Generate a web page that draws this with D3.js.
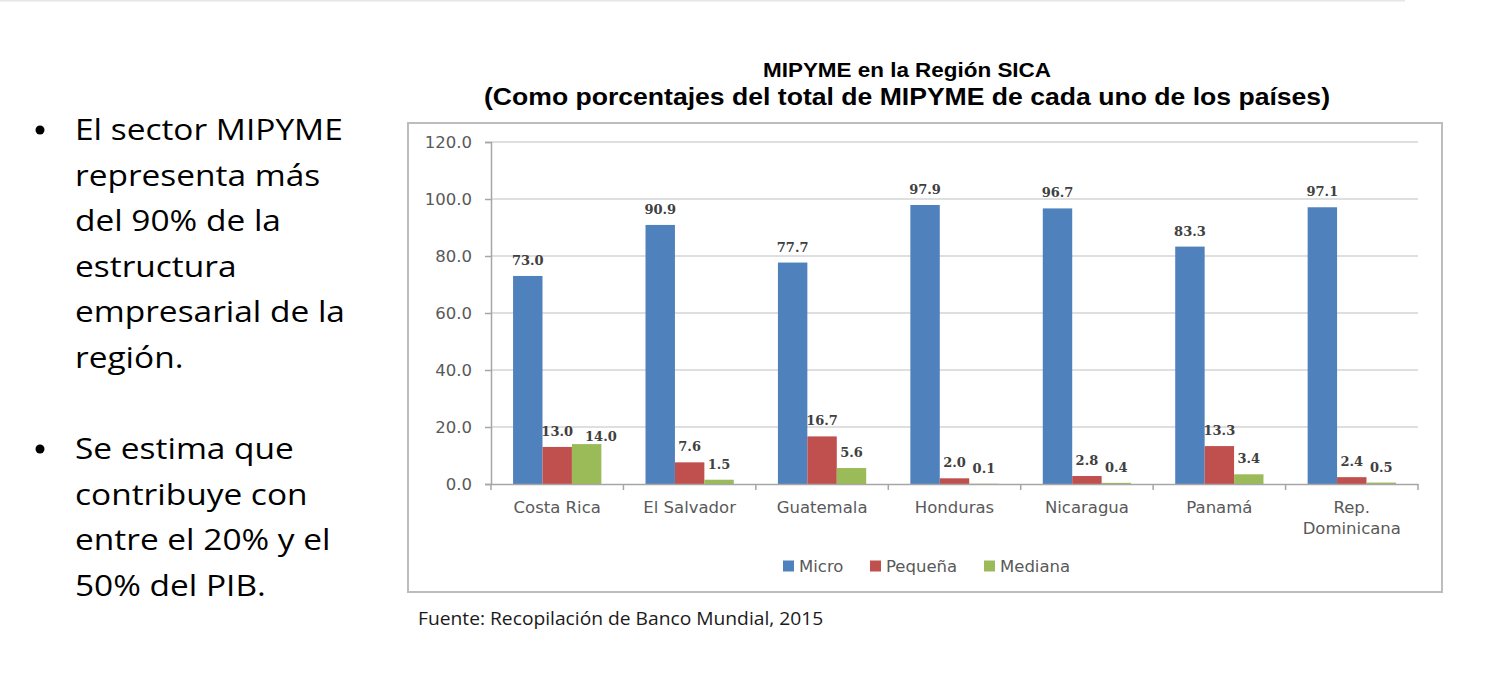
<!DOCTYPE html>
<html>
<head>
<meta charset="utf-8">
<script src="https://cdn.jsdelivr.net/npm/d3@7"></script>
<style>
  body { margin: 0; background: #fff; }
  svg { display: block; }
</style>
</head>
<body>
<div id="slide"></div>
<script>
// DATA
const countries = ["Costa Rica", "El Salvador", "Guatemala", "Honduras", "Nicaragua", "Panamá", "Rep. Dominicana"];
const series = ["Micro", "Pequeña", "Mediana"];
const micro = [73.0, 90.9, 77.7, 97.9, 96.7, 83.3, 97.1];
const pequena = [13.0, 7.6, 16.7, 2.0, 2.8, 13.3, 2.4];
const mediana = [14.0, 1.5, 5.6, 0.1, 0.4, 3.4, 0.5];
const yTicks = [0, 20, 40, 60, 80, 100, 120];
const colors = ["#4f81bd", "#c0504d", "#9bbb59"];

const titleLines = ["MIPYME en la Región SICA", "(Como porcentajes del total de MIPYME de cada uno de los países)"];
const bullet1 = ["El sector MIPYME", "representa más", "del 90% de la", "estructura", "empresarial de la", "región."];
const bullet2 = ["Se estima que", "contribuye con", "entre el 20% y el", "50% del PIB."];
const source = "Fuente: Recopilación de Banco Mundial, 2015";

const values = [micro, pequena, mediana];
const rows = countries.map((c, i) => ({ country: c, vals: values.map((v) => v[i]) }));

// CANVAS
const W = 1487, H = 689;
const svg = d3.select("#slide").append("svg").attr("width", W).attr("height", H);

// thin line on top of the slide
svg.append("line")
  .attr("x1", 0).attr("x2", 1405).attr("y1", 0.5).attr("y2", 0.5)
  .attr("stroke", "#e6e6e6").attr("stroke-width", 2);

// LEFT TEXT (slide font is a bit wider than Open Sans, so stretch it)
const textFont = "'Open Sans', Lato, sans-serif";
const STRETCH = 1.115;
function bulletBlock(lines, y0) {
  const g = svg.append("g");
  g.append("circle")
    .attr("cx", 40).attr("cy", y0 - 10)
    .attr("r", 4.5)
    .attr("fill", "#000");
  g.selectAll("text.line")
    .data(lines)
    .enter()
    .append("text")
    .attr("class", "line")
    .attr("transform", (d, i) => `translate(75, ${y0 + i * 45.6}) scale(${STRETCH}, 1)`)
    .attr("font-family", textFont)
    .attr("font-size", 30)
    .attr("fill", "#000")
    .text((d) => d);
}
bulletBlock(bullet1, 140);
bulletBlock(bullet2, 459);

// CHART FRAME
svg.append("rect")
  .attr("x", 408).attr("y", 123)
  .attr("width", 1442 - 408).attr("height", 592 - 123)
  .attr("fill", "#fff")
  .attr("stroke", "#bdbdbd").attr("stroke-width", 2);

// TITLE
const titleWidth = [288, 846];
svg.selectAll("text.title")
  .data(titleLines)
  .enter()
  .append("text")
  .attr("class", "title")
  .attr("x", 907)
  .attr("y", (d, i) => 77 + i * 28)
  .attr("text-anchor", "middle")
  .attr("font-family", "'Liberation Sans', Arial, sans-serif")
  .attr("font-weight", "bold")
  .attr("font-size", (d, i) => (i === 0 ? 20 : 23))
  .attr("textLength", (d, i) => titleWidth[i])
  .attr("lengthAdjust", "spacingAndGlyphs")
  .attr("fill", "#000")
  .text((d) => d);

// SCALES
const PLOT = { LEFT: 491, RIGHT: 1418, TOP: 142, BOTTOM: 484 };
const x = d3.scaleBand().domain(countries).range([PLOT.LEFT, PLOT.RIGHT]);
const y = d3.scaleLinear().domain([0, 120]).range([PLOT.BOTTOM, PLOT.TOP]);
const bw = x.bandwidth() / 4.5;
const axisFont = "'DejaVu Sans', Verdana, sans-serif";

// GRID
svg.append("g")
  .selectAll("line")
  .data(yTicks.slice(1))
  .enter()
  .append("line")
  .attr("x1", PLOT.LEFT).attr("x2", PLOT.RIGHT)
  .attr("y1", (d) => y(d)).attr("y2", (d) => y(d))
  .attr("stroke", "#d4d4d4").attr("stroke-width", 1.5);

// Y AXIS
const yAxis = svg.append("g")
  .attr("transform", `translate(${PLOT.LEFT}, 0)`)
  .call(d3.axisLeft(y).tickValues(yTicks).tickFormat(d3.format(".1f")).tickSize(6).tickPadding(13));
yAxis.select(".domain").attr("stroke", "#a6a6a6").attr("stroke-width", 1.5);
yAxis.selectAll(".tick line").attr("stroke", "#a6a6a6").attr("stroke-width", 1.5);
yAxis.selectAll(".tick text")
  .attr("font-family", axisFont).attr("font-size", 16.5).attr("fill", "#595959");

// BARS
const groups = svg.append("g")
  .selectAll("g")
  .data(rows)
  .enter()
  .append("g")
  .attr("transform", (d) => `translate(${x(d.country) + 0.75 * bw}, 0)`);

groups.selectAll("rect")
  .data((d) => d.vals)
  .enter()
  .append("rect")
  .attr("x", (d, i) => i * bw)
  .attr("width", bw)
  .attr("y", (d) => y(d))
  .attr("height", (d) => y(0) - y(d))
  .attr("fill", (d, i) => colors[i]);

// VALUE LABELS
groups.each(function () {
  const labels = d3.select(this)
    .selectAll("text")
    .data((d) => d.vals)
    .enter()
    .append("text")
    .attr("x", (d, i) => i * bw + bw / 2)
    .attr("y", (d) => y(d) - 11)
    .attr("text-anchor", "middle")
    .attr("font-family", "'DejaVu Serif', serif")
    .attr("font-weight", "bold")
    .attr("font-size", 13)
    .attr("fill", "#404040")
    .text((d) => d.toFixed(1));
  // push a label aside when it runs into its left neighbour
  const nodes = labels.nodes();
  for (let i = 1; i < nodes.length; i++) {
    const a = nodes[i - 1].getBBox(), b = nodes[i].getBBox();
    const gap = b.x - (a.x + a.width);
    const overlapY = Math.min(a.y + a.height, b.y + b.height) - Math.max(a.y, b.y);
    if (gap < 6 && overlapY > 0) {
      const t = d3.select(nodes[i]);
      t.attr("x", +t.attr("x") + 12 - gap).attr("y", +t.attr("y") + 8);
    }
  }
});

// X AXIS
const xAxis = svg.append("g")
  .attr("transform", `translate(0, ${PLOT.BOTTOM})`)
  .call(d3.axisBottom(x).tickSize(0).tickFormat(""));
xAxis.select(".domain").attr("stroke", "#a6a6a6").attr("stroke-width", 1.5);
xAxis.selectAll(".tick").remove();

// category separators
xAxis.selectAll("line.sep")
  .data(countries.concat(["end"]))
  .enter()
  .append("line")
  .attr("class", "sep")
  .attr("x1", (d, i) => PLOT.LEFT + i * x.step())
  .attr("x2", (d, i) => PLOT.LEFT + i * x.step())
  .attr("y1", 0).attr("y2", 6)
  .attr("stroke", "#a6a6a6").attr("stroke-width", 1.5);

// category labels (Rep. Dominicana on two lines)
const catLabels = xAxis.selectAll("text.cat")
  .data(countries)
  .enter()
  .append("text")
  .attr("class", "cat")
  .attr("text-anchor", "middle")
  .attr("font-family", axisFont)
  .attr("font-size", 16.5)
  .attr("fill", "#595959");
catLabels.each(function (d) {
  const words = d === "Rep. Dominicana" ? ["Rep.", "Dominicana"] : [d];
  d3.select(this)
    .selectAll("tspan")
    .data(words)
    .enter()
    .append("tspan")
    .attr("x", x(d) + x.bandwidth() / 2)
    .attr("y", (w, i) => 29 + i * 21)
    .text((w) => w);
});

// LEGEND
const legendX = [783, 870, 984];
const legend = svg.append("g")
  .selectAll("g")
  .data(series)
  .enter()
  .append("g")
  .attr("transform", (d, i) => `translate(${legendX[i]}, 566)`);
legend.append("rect")
  .attr("x", 0).attr("y", -5.5)
  .attr("width", 11).attr("height", 11)
  .attr("fill", (d, i) => colors[i]);
legend.append("text")
  .attr("x", 16).attr("y", 6)
  .attr("font-family", axisFont)
  .attr("font-size", 16.5)
  .attr("fill", "#595959")
  .text((d) => d);

// SOURCE
svg.append("text")
  .attr("transform", `translate(418, 625) scale(1.1, 1)`)
  .attr("font-family", textFont)
  .attr("font-size", 17.5)
  .attr("fill", "#1a1a1a")
  .text(source);
</script>
</body>
</html>
